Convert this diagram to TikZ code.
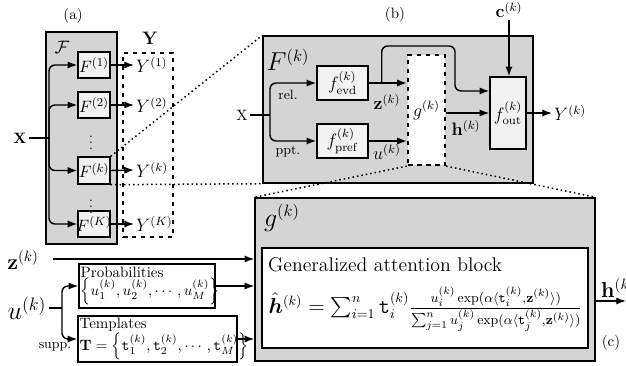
\documentclass[tikz,border=0pt]{standalone}
\usepackage{amsmath,amssymb,bm}
\usetikzlibrary{arrows.meta,fit,calc}
\begin{document}
\begin{tikzpicture}[x=0.6667pt,y=-0.6667pt,
  line width=0.95pt,
  arr/.style={-{Latex[length=6.5pt,width=4.8pt]}},
  graybox/.style={draw, fill=black!17, inner sep=0pt},
  lightbox/.style={draw, fill=black!5, inner sep=0pt},
  whitebox/.style={draw, fill=white, inner sep=0pt},
  dashbox/.style={draw, dashed, inner sep=0pt},
  dots/.style={dotted, line width=1pt},
  lbl/.style={inner sep=1pt},
  bigf/.style={inner sep=1pt, font=\fontsize{11}{13}\selectfont},
  midf/.style={inner sep=1pt, font=\large},
]
\useasboundingbox (0,0) rectangle (626,366);

% ---------- (a)
\node[lbl] (la) at (73,16) {(a)};
\node[graybox, fit={(46,32)(117,244)}] (Fa) {};
\node[lbl] (calF) at (62,47) {\large$\mathcal{F}$};
\node[lightbox, fit={(78,52)(110,78)}] (F1) {};
\node[lightbox, fit={(78,92)(110,118)}] (F2) {};
\node[lightbox, fit={(78,157)(110,184)}] (Fk) {};
\node[lightbox, fit={(78,211)(110,237)}] (FK) {};
\node[bigf] (F1t) at (F1.center) {$F^{(1)}$};
\node[bigf] (F2t) at (F2.center) {$F^{(2)}$};
\node[bigf] (Fkt) at (Fk.center) {$F^{(k)}$};
\node[bigf] (FKt) at (FK.center) {$F^{(K)}$};
\node[inner sep=0pt, font=\small] (vd1) at (91,138) {$\vdots$};
\node[inner sep=0pt, font=\small] (vd2) at (91,202) {$\vdots$};
\node[lbl] (Xa) at (20,138) {$\mathbf{X}$};
\coordinate (ja) at (49,138);
\draw (Xa.east) -- (ja);
\foreach \f in {F1,F2,Fk,FK}{
  \draw[arr, rounded corners=4pt] (ja) |- (\f.west);
}
\node[dashbox, fit={(123,53)(173,237)}] (Ybox) {};
\node[lbl] (Ybl) at (150,38) {\large$\mathbf{Y}$};
\node[midf, anchor=west] (Y1) at (134,65) {$Y^{(1)}$};
\node[midf, anchor=west] (Y2) at (134,105) {$Y^{(2)}$};
\node[midf, anchor=west] (Yk) at (134,170) {$Y^{(k)}$};
\node[midf, anchor=west] (YK) at (134,224) {$Y^{(K)}$};
\draw[arr] (F1.east) -- (Y1.west);
\draw[arr] (F2.east) -- (Y2.west);
\draw[arr] (Fk.east) -- (Yk.west);
\draw[arr] (FK.east) -- (YK.west);

% ---------- (b)
\node[lbl] (lb) at (395,15) {(b)};
\node[graybox, fit={(263,36)(533,183)}] (Fb) {};
\node[lbl] (Fbt) at (288,60) {\fontsize{16}{18}\selectfont$F^{(k)}$};
\node[lbl] (Xb) at (242,115) {$\mathrm{X}$};
\coordinate (jb) at (270,115);
\node[lightbox, fit={(317,66)(368,100)}] (fevd) {};
\node[lightbox, fit={(317,124)(368,158)}] (fpref) {};
\node[midf] (fevdt) at (fevd.center) {$f^{(k)}_{\mathrm{evd}}$};
\node[midf] (fpreft) at (fpref.center) {$f^{(k)}_{\mathrm{pref}}$};
\draw (Xb.east) -- (jb);
\draw[arr, rounded corners=4pt] (jb) |- (fevd.west);
\draw[arr, rounded corners=4pt] (jb) |- (fpref.west);
\node[lbl, font=\small] (rel) at (288,95) {rel.};
\node[lbl, font=\small] (ppt) at (288,152) {ppt.};
\node[draw, dashed, fill=white, line width=1.5pt, inner sep=0pt, fit={(408,55)(445,165)}] (g) {};
\node[midf] (gt) at (g.center) {$g^{(k)}$};
\node[lightbox, fit={(490,77)(526,149)}] (fout) {};
\node[midf] (foutt) at (fout.center) {$f^{(k)}_{\mathrm{out}}$};
\coordinate (fo1) at ($(fout.north west)!0.2!(fout.south west)$);
\coordinate (zb) at ($(fevd.east)+(13,0)$);
\coordinate (tb) at (455,46);
\draw[arr] (fevd.east) -- (fevd.east -| g.west);
\draw[arr, rounded corners=4pt] (zb) |- (tb) |- (fo1);
\draw[arr] (fpref.east) -- (fpref.east -| g.west);
\draw[arr] (g.east |- fout.west) -- (fout.west);
\node[midf] (zlb) at (387,102) {$\mathbf{z}^{(k)}$};
\node[midf] (ulb) at (387,152) {$u^{(k)}$};
\node[midf] (hlb) at (466,128) {$\mathbf{h}^{(k)}$};
\node[midf] (clb) at (509,10) {$\mathbf{c}^{(k)}$};
\draw[arr] (clb.south) -- (clb.south |- fout.north);
\node[midf, anchor=west] (Ybk) at (552,113) {$Y^{(k)}$};
\draw[arr] (fout.east) -- (Ybk.west);

\draw[dots] (Fk.north east) -- (Fb.north west);
\draw[dots] (Fk.south east) -- (Fb.south west);

% ---------- (c)
\node[graybox, fit={(255,198)(595,361)}] (Gc) {};
\node[lbl] (gct) at (282,218) {\fontsize{16}{18}\selectfont$g^{(k)}$};
\node[whitebox, fit={(262,248)(588,348)}] (att) {};
\node[lbl, anchor=west, font=\fontsize{13.2}{15}\selectfont] (attt) at (266,265) {Generalized attention block};
\node[inner sep=0pt, anchor=west, font=\fontsize{13.5}{15}\selectfont] (form) at (268,309) {$\hat{\boldsymbol{h}}^{(k)} = \sum_{i=1}^{n} \mathtt{t}_i^{(k)} \frac{u_i^{(k)}\exp(\alpha\langle \mathtt{t}_i^{(k)},\mathbf{z}^{(k)}\rangle)}{\sum_{j=1}^{n} u_j^{(k)}\exp(\alpha\langle \mathtt{t}_j^{(k)},\mathbf{z}^{(k)}\rangle)}$};
\draw[dots] (g.south west) -- (Gc.north west);
\draw[dots] (g.south east) -- (Gc.north east);
\coordinate (hend) at (626,301);
\draw[arr] (Gc.east |- hend) -- (hend);
\node[lbl, anchor=west] (hout) at (599,288) {\Large$\mathbf{h}^{(k)}$};
\node[lbl] (lc) at (611,343) {(c)};

\node[lbl] (zin) at (23,260) {\Large$\mathbf{z}^{(k)}$};
\coordinate (zst) at (53,259);
\draw[arr] (zst) -- (zst -| Gc.west);
\node[whitebox, fit={(79,264)(215,308)}] (prob) {};
\node[whitebox, fit={(78,316)(237,362)}] (templ) {};
\node[inner sep=0pt, anchor=west, align=left] (probt) at (80,286) {Probabilities\\$\left\{u_1^{(k)},u_2^{(k)},\cdots,u_M^{(k)}\right\}$};
\node[inner sep=0pt, anchor=west, align=left] (templt) at (79,339) {Templates\\$\mathbf{T}=\left\{\mathtt{t}_1^{(k)},\mathtt{t}_2^{(k)},\cdots,\mathtt{t}_M^{(k)}\right\}$};
\draw[arr] (prob.east) -- (prob.east -| Gc.west);
\draw[arr] (templ.east) -- (templ.east -| Gc.west);
\node[lbl] (uin) at (27,308) {\LARGE$u^{(k)}$};
\coordinate (ju) at (62,308);
\draw (uin.east) -- (ju);
\draw[arr, rounded corners=4pt] (ju) |- (prob.west);
\draw[arr, rounded corners=4pt] (ju) |- (templ.west);
\node[lbl, font=\small] (supp) at (55,347) {supp.};
\end{tikzpicture}
\end{document}
